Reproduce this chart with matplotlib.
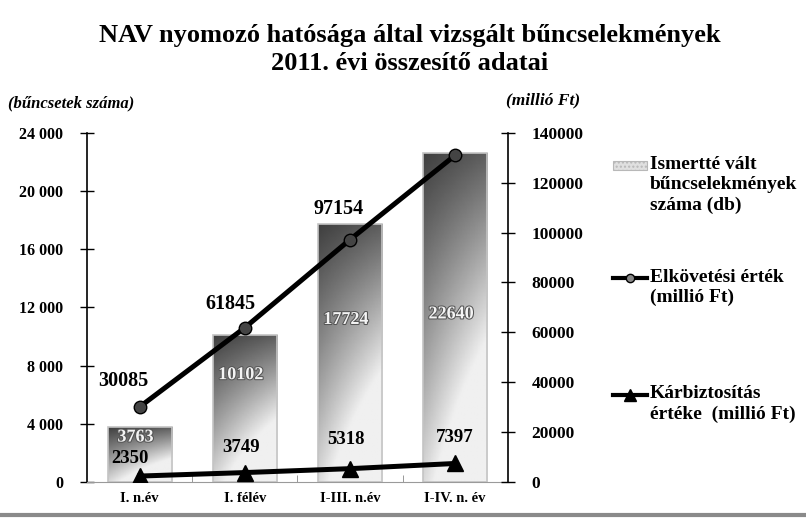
import matplotlib
matplotlib.use("Agg")
import matplotlib.pyplot as plt
import matplotlib.patheffects as pe
from matplotlib.lines import Line2D
from matplotlib.patches import Rectangle
import numpy as np

# data
categories = ["I. n.év", "I. félév", "I-III. n.év", "I-IV. n. év"]
cases = [3763, 10102, 17724, 22640]          # bűncselekmények száma (db)
offence_value = [30085, 61845, 97154, 131000]  # elkövetési érték (millió Ft)
secured_value = [2350, 3749, 5318, 7397]      # kárbiztosítás (millió Ft)
show_offence_label = [True, True, True, False]  # last one is hidden behind the bar

left_ticks = [0, 4000, 8000, 12000, 16000, 20000, 24000]
right_ticks = [0, 20000, 40000, 60000, 80000, 100000, 120000, 140000]

serif = "Liberation Serif"
plt.rcParams["font.family"] = [serif, "DejaVu Serif"]
plt.rcParams["font.weight"] = "bold"

fig = plt.figure(figsize=(8.06, 5.29), dpi=100)
ax = fig.add_axes([0.108, 0.089, 0.522, 0.66])
ax2 = ax.twinx()

x = np.arange(len(categories))
bar_w = 0.61

# bars: grey gradient (dark at the top, fading down and to the right)
yy, xx = np.mgrid[0:1:80j, 0:1:40j]
shade = np.clip(0.25 + 0.6 * yy + 0.4 * xx * (0.3 + yy), 0, 0.94)
for xi, h in zip(x, cases):
    rect = Rectangle((xi - bar_w / 2, 0), bar_w, h, facecolor="none",
                     edgecolor="#c4c4c4", lw=1.2, zorder=2)
    ax.add_patch(rect)
    im = ax.imshow(shade, cmap="gray", vmin=0, vmax=1, aspect="auto",
                   extent=[xi - bar_w / 2, xi + bar_w / 2, 0, h],
                   origin="upper", zorder=1.5)
    im.set_clip_path(rect)

# bar value labels (light text inside the bars)
label_frac = [0.82, 0.73, 0.63, 0.51]
for xi, h, fr in zip(x, cases, label_frac):
    ax.text(xi - 0.04, h * fr, f"{h}", ha="center", va="center", fontsize=13,
            color="#f4f4f4", zorder=3,
            path_effects=[pe.withStroke(linewidth=1.5, foreground="#555555")])

ax.set_xlim(-0.5, len(categories) - 0.5)
ax.set_ylim(0, 24000)
ax2.set_ylim(0, 140000)

ax2.plot(x, offence_value, color="black", lw=3.6, marker="o", ms=9,
         mfc="#444444", mec="black", zorder=4)
ax2.plot(x, secured_value, color="black", lw=3.6, marker="^", ms=12,
         mfc="black", mec="black", zorder=4)

# label offsets in points (dx, dy) relative to the markers
offence_off = [(-12, 19), (-10, 17), (-8, 22), (0, 0)]
secured_off = [(-7, 13), (-3, 18), (-3, 21), (0, 19)]
for xi, v, show, off in zip(x, offence_value, show_offence_label, offence_off):
    if show:
        ax2.annotate(f"{v}", (xi, v), xytext=off, textcoords="offset points",
                     ha="center", va="center", fontsize=14.5, color="black", zorder=5)
for xi, v, off in zip(x, secured_value, secured_off):
    ax2.annotate(f"{v}", (xi, v), xytext=off, textcoords="offset points",
                 ha="center", va="center", fontsize=13.5, color="black", zorder=5)

# axes styling
ax.set_xticks(x)
ax.set_xticklabels(categories)
ax.set_xticks(x[:-1] + 0.5, minor=True)
ax.tick_params(axis="x", which="major", length=0, pad=7, labelsize=10.5)
ax.tick_params(axis="x", which="minor", length=5, direction="in", color="#888888")
ax.set_yticks(left_ticks)
ax.set_yticklabels([f"{t:,}".replace(",", " ") for t in left_ticks])
ax.tick_params(axis="y", direction="inout", length=10, width=1, pad=12, labelsize=11.5)
ax2.set_yticks(right_ticks)
ax2.set_yticklabels([str(t) for t in right_ticks])
ax2.tick_params(axis="y", direction="inout", length=10, width=1, pad=12, labelsize=12.5)

for a in (ax, ax2):
    a.spines["top"].set_visible(False)
ax.spines["right"].set_visible(False)
ax2.spines["left"].set_visible(False)
ax2.spines["bottom"].set_visible(False)
ax.spines["bottom"].set_color("#9a9a9a")
ax.spines["bottom"].set_linewidth(0.8)
ax2.spines["right"].set_linewidth(1.2)
ax.spines["left"].set_linewidth(1.2)

# axis unit labels
fig.text(0.010, 0.805, "(bűncsetek száma)", fontsize=12, style="italic", ha="left", va="center")
fig.text(0.628, 0.811, "(millió Ft)", fontsize=12.5, style="italic", ha="left", va="center")

# title
fig.text(0.508, 0.932, "NAV nyomozó hatósága által vizsgált bűncselekmények",
         fontsize=19, ha="center", va="center")
fig.text(0.508, 0.880, "2011. évi összesítő adatai", fontsize=19, ha="center", va="center")

# legend, built by hand so every entry sits on its first text line
lx0, lx1, tx = 0.761, 0.803, 0.806
fig.patches.append(Rectangle((lx0, 0.678), lx1 - lx0, 0.018, transform=fig.transFigure,
                             facecolor="#e0e0e0", edgecolor="#b8b8b8", lw=0.8,
                             hatch="....", figure=fig))
fig.text(tx, 0.705, "Ismertté vált\nbűncselekmények\nszáma (db)", fontsize=14,
         ha="left", va="top", linespacing=1.25)
fig.lines.append(Line2D([lx0, lx1], [0.474, 0.474], transform=fig.transFigure,
                        color="black", lw=3, figure=fig))
fig.lines.append(Line2D([(lx0 + lx1) / 2], [0.474], transform=fig.transFigure,
                        color="black", marker="o", ms=6, mfc="#888888", lw=0, figure=fig))
fig.text(tx, 0.492, "Elkövetési érték\n(millió Ft)", fontsize=14,
         ha="left", va="top", linespacing=1.25)
fig.lines.append(Line2D([lx0, lx1], [0.254, 0.254], transform=fig.transFigure,
                        color="black", lw=3, figure=fig))
fig.lines.append(Line2D([(lx0 + lx1) / 2], [0.254], transform=fig.transFigure,
                        color="black", marker="^", ms=8, lw=0, figure=fig))
fig.text(tx, 0.272, "Kárbiztosítás\nértéke  (millió Ft)", fontsize=14,
         ha="left", va="top", linespacing=1.25)

# scanned page edge at the bottom
fig.lines.append(Line2D([0, 1], [0.026, 0.026], transform=fig.transFigure,
                        color="#8a8a8a", lw=3, figure=fig))

fig.savefig("out.png", dpi=100)
